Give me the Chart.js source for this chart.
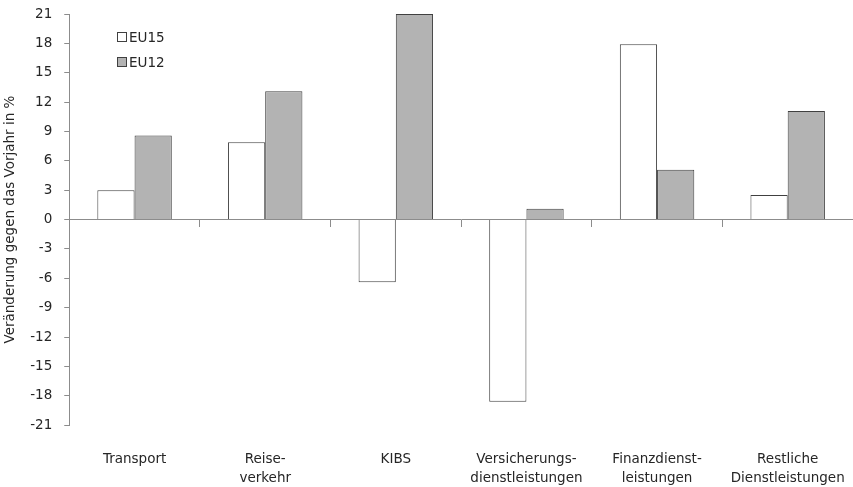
<!DOCTYPE html>
<html>
<head>
<meta charset="utf-8">
<script src="https://cdn.jsdelivr.net/npm/chart.js@4"></script>
<style>
  html, body { margin: 0; padding: 0; background: #fff; }
  #wrap { width: 853px; height: 487px; }
</style>
</head>
<body>
<div id="wrap"><canvas id="chart"></canvas></div>
<script>
const categories = [
    ["Transport"],
    ["Reise-", "verkehr"],
    ["KIBS"],
    ["Versicherungs-", "dienstleistungen"],
    ["Finanzdienst-", "leistungen"],
    ["Restliche", "Dienstleistungen"]
];
const eu15 = [3.0, 7.9, -6.4, -18.6, 17.9, 2.5];
const eu12 = [8.6, 13.1, 21.0, 1.1, 5.1, 11.1];
const seriesNames = ["EU15", "EU12"];
const yTicks = [-21, -18, -15, -12, -9, -6, -3, 0, 3, 6, 9, 12, 15, 18, 21];

const fontFamily = "'DejaVu Sans', sans-serif";
const axisGray = '#8c8c8c';
const textColor = '#262626';

// legend drawn inside the plot, top left
const innerLegend = {
    id: 'innerLegend',
    afterDraw(chart) {
        const ctx = chart.ctx;
        const x = Math.round(chart.chartArea.left + 48);
        let y = Math.round(chart.chartArea.top + 23);
        ctx.save();
        ctx.font = '13.5px ' + fontFamily;
        ctx.textBaseline = 'middle';
        chart.data.datasets.forEach(ds => {
            ctx.fillStyle = ds.backgroundColor;
            ctx.strokeStyle = ds.borderColor;
            ctx.lineWidth = 1;
            ctx.fillRect(x + 0.5, y - 4.5, 9, 9);
            ctx.strokeRect(x + 0.5, y - 4.5, 9, 9);
            ctx.fillStyle = textColor;
            ctx.fillText(ds.label, x + 12, y + 1);
            y += 25;
        });
        ctx.restore();
    }
};

createChart();

function createChart() {
    const ctx = document.getElementById('chart').getContext('2d');
    new Chart(ctx, {
        type: 'bar',
        data: {
            labels: categories,
            datasets: [{
                label: seriesNames[0],
                data: eu15,
                backgroundColor: '#ffffff',
                borderColor: '#404040',
                borderWidth: 1
            }, {
                label: seriesNames[1],
                data: eu12,
                backgroundColor: '#b3b3b3',
                borderColor: '#404040',
                borderWidth: 1
            }]
        },
        options: {
            responsive: true,
            maintainAspectRatio: false,
            animation: false,
            layout: { padding: { top: 0, right: 0, bottom: 0, left: 2 } },
            categoryPercentage: 0.57,
            barPercentage: 1.0,
            plugins: {
                legend: { display: false },
                tooltip: { enabled: false }
            },
            scales: {
                x: {
                    position: 'bottom',
                    grid: { display: false, drawTicks: true, tickLength: 23 },
                    border: { display: false },
                    afterFit: scale => {
                        // let the two-line labels sit a little lower
                        scale.height -= 3;
                    },
                    ticks: {
                        color: textColor,
                        font: { family: fontFamily, size: 13.5, lineHeight: 1.4 },
                        padding: 2,
                        maxRotation: 0,
                        autoSkip: false
                    }
                },
                // axis line at zero with tick marks between categories
                xZero: {
                    type: 'category',
                    labels: categories,
                    position: { y: 0 },
                    offset: true,
                    grid: {
                        display: true,
                        offset: true,
                        drawOnChartArea: false,
                        drawTicks: true,
                        tickLength: 7,
                        color: axisGray
                    },
                    border: { display: true, color: axisGray, width: 1 },
                    ticks: { display: false }
                },
                y: {
                    min: -21,
                    max: 21,
                    afterBuildTicks: scale => {
                        scale.ticks = yTicks.map(v => ({ value: v }));
                    },
                    afterFit: scale => {
                        // keep the top tick label just inside the canvas
                        scale.paddingTop = 14;
                    },
                    grid: {
                        drawOnChartArea: false,
                        drawTicks: true,
                        tickLength: 5,
                        color: axisGray
                    },
                    border: { display: true, color: axisGray, width: 1 },
                    ticks: {
                        color: textColor,
                        font: { family: fontFamily, size: 13.5 },
                        padding: 12
                    },
                    title: {
                        display: true,
                        text: 'Veränderung gegen das Vorjahr in %',
                        color: textColor,
                        font: { family: fontFamily, size: 13.5 },
                        padding: { top: 0, bottom: 0 }
                    }
                }
            }
        },
        plugins: [innerLegend]
    });
}
</script>
</body>
</html>
